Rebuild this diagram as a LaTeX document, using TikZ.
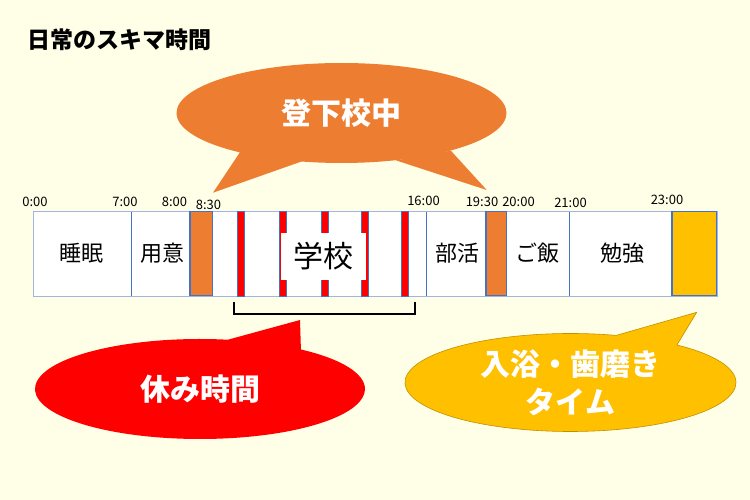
\documentclass[tikz,border=0pt]{standalone}
\usepackage{fontspec}
\setmainfont{Noto Sans CJK JP}
\usepackage{xcolor}
\usepackage{tikz}
\usetikzlibrary{shapes.callouts}

\definecolor{bgyellow}{RGB}{255,255,232}
\definecolor{frameblue}{RGB}{160,182,224}
\definecolor{lineblue}{RGB}{68,114,196}
\definecolor{boxorange}{RGB}{237,125,49}
\definecolor{breakred}{RGB}{255,0,0}
\definecolor{bathyellow}{RGB}{255,192,0}
\definecolor{bathedge}{RGB}{191,144,0}

\begin{document}
\begin{tikzpicture}[
  x=1pt,y=-1pt,
  tick/.style={font=\fontsize{13}{14}\selectfont,inner sep=0pt},
  act/.style={font=\fontsize{22}{24}\selectfont,inner sep=0pt},
  slot/.style={draw=lineblue,line width=1.2pt,inner sep=0pt,minimum height=84.5pt},
  rest/.style={fill=breakred,draw=lineblue,line width=0.4pt,inner sep=0pt,minimum width=7pt,minimum height=84.5pt},
  divider/.style={lineblue,line width=0.8pt},
  bubble/.style={ellipse callout,callout pointer arc=24,inner sep=0pt,text=white,align=center,
    font=\bfseries\fontsize{30}{38}\selectfont,minimum width=330pt,minimum height=100pt}
]
% background
\fill[bgyellow] (0,0) rectangle (750,500);
\useasboundingbox (0,0) rectangle (750,500);

% title
\node[font=\bfseries\fontsize{23}{25}\selectfont,anchor=west,inner sep=0pt] (title) at (27,40) {日常のスキマ時間};

% time bar
\node[draw=frameblue,fill=white,line width=0.8pt,inner sep=0pt,minimum width=684pt,minimum height=85pt] (bar) at (375,253.5) {};
\foreach \t in {131,426.5,569.5}
  \draw[divider] (\t,211.5) -- (\t,295.5);

\node[slot,fill=boxorange,minimum width=22.7pt] (leave) at (201.3,253.5) {};
\node[slot,fill=boxorange,minimum width=20.7pt] (back) at (496.3,253.5) {};
\node[slot,fill=bathyellow,minimum width=44.7pt] (bathslot) at (694.3,253.5) {};

\foreach \t [count=\i] in {240.5,282.7,324.7,365,404.7}
  \node[rest] (rest\i) at (\t,253.5) {};
\node[act,fill=white,font=\fontsize{30}{32}\selectfont,minimum width=85pt,minimum height=47pt] (school) at (323,256.5) {学校};

% activities
\node[act] (sleep) at (81.5,253) {睡眠};
\node[act] (prep) at (162.5,253) {用意};
\node[act] (club) at (457,253) {部活};
\node[act] (meal) at (537,253) {ご飯};
\node[act] (study) at (622,253) {勉強};

% times
\node[tick] (t0) at (35,202) {0:00};
\node[tick] (t7) at (125,202) {7:00};
\node[tick] (t8) at (174.5,202) {8:00};
\node[tick] (t830) at (208.5,205) {8:30};
\node[tick] (t16) at (423.5,201) {16:00};
\node[tick] (t1930) at (482,202) {19:30};
\node[tick] (t20) at (518.5,202) {20:00};
\node[tick] (t21) at (570.5,203) {21:00};
\node[tick] (t23) at (667,200) {23:00};

% bracket under school
\coordinate (brL) at (234,301.5);
\coordinate (brR) at (415,301.5);
\draw[line width=2pt] (brL) -- ++(0,12.5) -| (brR);

% callouts
\node[bubble,fill=boxorange,callout absolute pointer={(213,192.7)}] (commute) at (341.5,113) {登下校中};
\coordinate (commutetip) at (486.7,190);
\fill[boxorange] (commute.-19) -- (commutetip) -- (commute.-41) -- cycle;

\node[bubble,fill=breakred,callout pointer arc=28,callout absolute pointer={(300,320)}] (break) at (200,389) {休み時間};

\node[bubble,fill=bathyellow,draw=bathedge,line width=0.6pt,minimum width=331pt,minimum height=98pt,
  callout absolute pointer={(696.7,312.3)}] (bath) at (570.5,382.5) {入浴・歯磨き\\タイム};
\end{tikzpicture}
\end{document}
